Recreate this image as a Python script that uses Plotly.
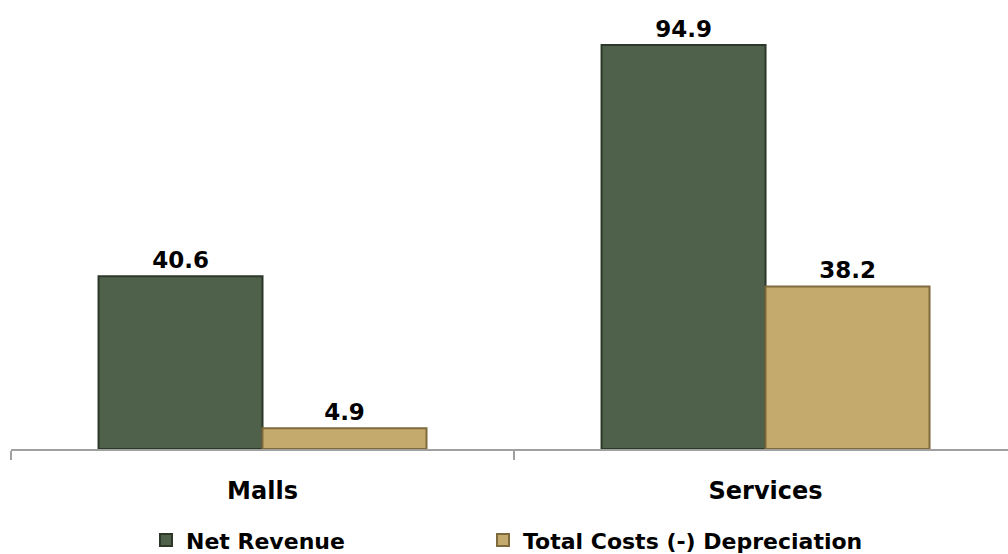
import plotly.graph_objects as go

categories = ["Malls", "Services"]
net_revenue = [40.6, 94.9]
total_costs = [4.9, 38.2]
series_names = ["Net Revenue", "Total Costs (-) Depreciation"]

FONT = "DejaVu Sans"

def bold(size):
    return dict(family=FONT, size=size, color="#000000", weight="bold")

fig = go.Figure()
fig.add_trace(go.Bar(
    x=categories, y=net_revenue, name=series_names[0],
    marker=dict(color="#4F614B", line=dict(color="#2C3829", width=2)),
    text=[f"{v:.1f}" for v in net_revenue], textposition="outside",
    textfont=bold(23),
    cliponaxis=False, legend="legend",
))
fig.add_trace(go.Bar(
    x=categories, y=total_costs, name=series_names[1],
    marker=dict(color="#C4AA6C", line=dict(color="#7E6A3C", width=2)),
    text=[f"{v:.1f}" for v in total_costs], textposition="outside",
    textfont=bold(23),
    cliponaxis=False, legend="legend2",
))

legend_common = dict(
    orientation="h", xref="container", yref="container",
    y=0.025, yanchor="middle", xanchor="left",
    font=bold(22), itemwidth=30, bgcolor="rgba(0,0,0,0)",
)

fig.update_layout(
    width=1008, height=554,
    margin=dict(l=11, r=0, t=0, b=105, autoexpand=False),
    paper_bgcolor="white", plot_bgcolor="white",
    barmode="group", bargap=0.348, bargroupgap=0,
    font=dict(family=FONT, color="#000000"),
    showlegend=True,
    legend=dict(legend_common, x=146 / 1008),
    legend2=dict(legend_common, x=483 / 1008),
)
fig.update_xaxes(
    range=[-0.5, 1.482],
    showline=True, linecolor="#A0A0A0", linewidth=1.5,
    ticks="outside", tickson="boundaries", ticklen=9, tickcolor="#A0A0A0", tickwidth=1.5,
    tickfont=bold(24),
    ticklabelstandoff=19,
    showgrid=False, zeroline=False,
)
fig.update_yaxes(
    range=[0, 105.5], visible=False, showgrid=False, zeroline=False,
)
fig.update_traces(textangle=0)

fig.write_html("out.html")
